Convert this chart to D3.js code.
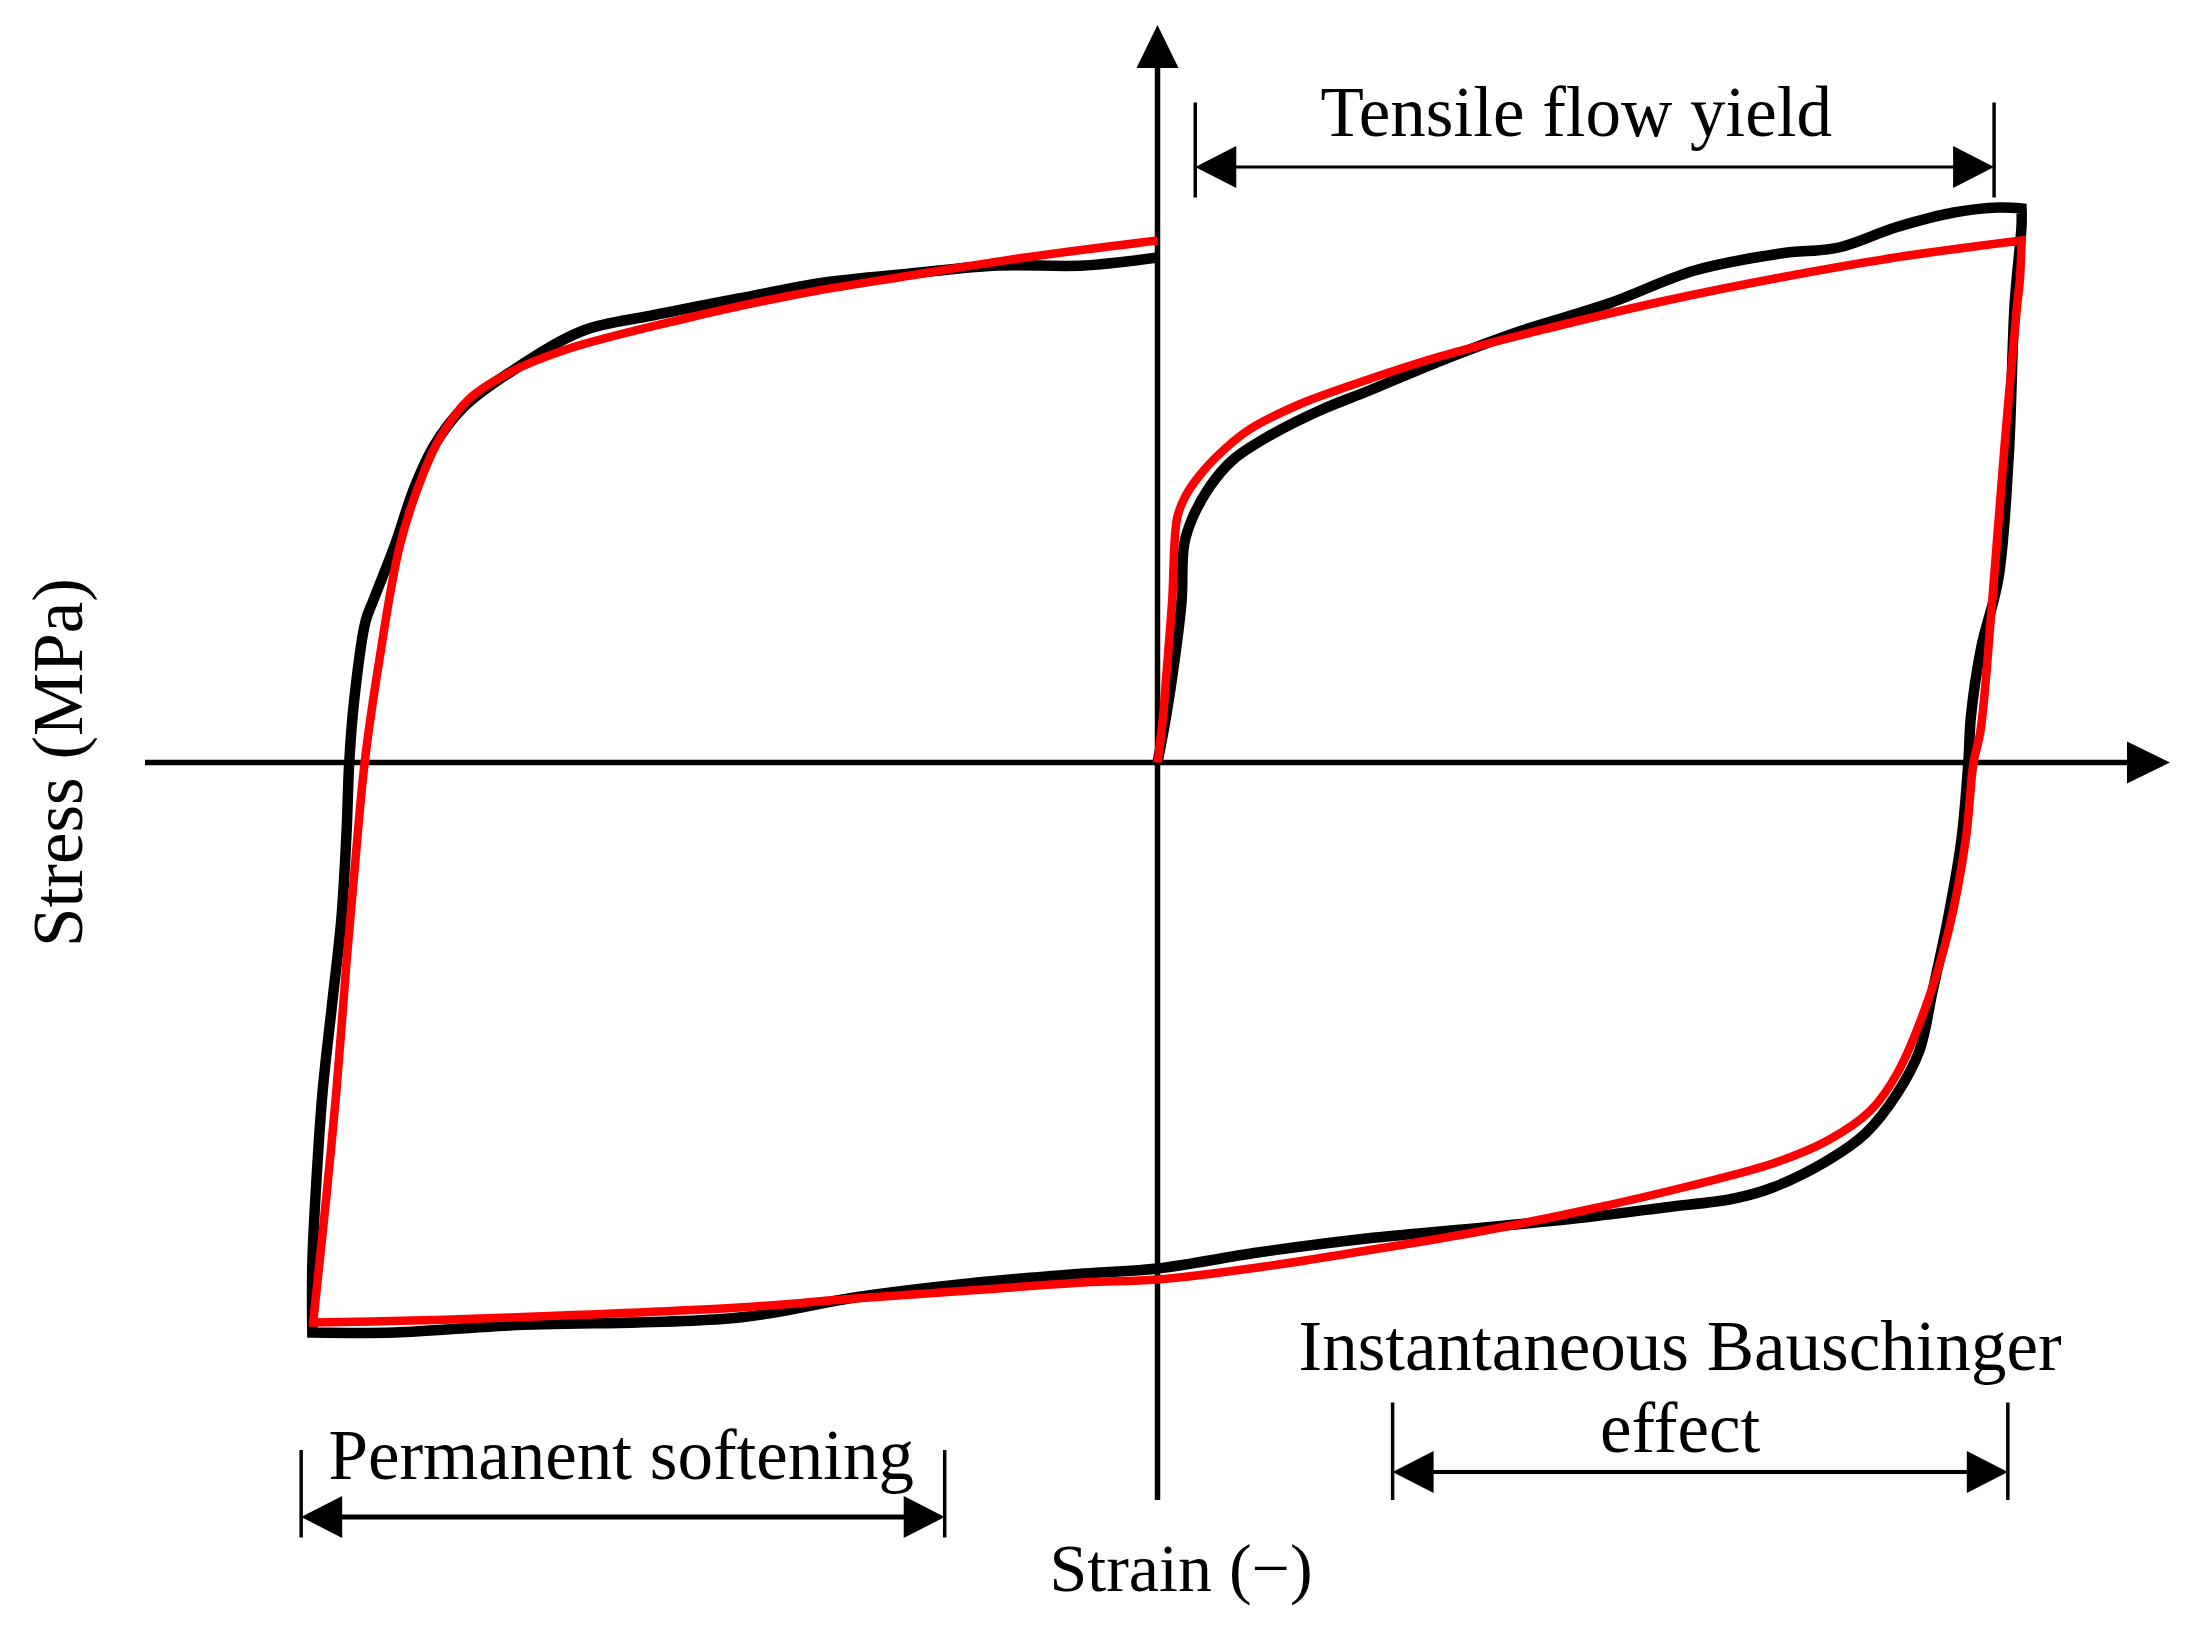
<!DOCTYPE html>
<html>
<head>
    <meta charset="utf-8">
    <title>Stress-strain loop</title>
    <script type="text/javascript" src="https://cdn.jsdelivr.net/npm/d3@7"></script>
    <style>
        body { margin: 0; background: #fff; }
        svg text { font-family: "Liberation Serif", "Times New Roman", serif; fill: #000; }
    </style>
</head>
<body>
<script type="text/javascript">

    // measured loop (black), [strain, stress], split at the sharp turns
    var blackLoad = [
        [0, 0], [0.10, 9.2], [0.20, 20.6], [0.28, 32.2], [0.31, 43.6], [0.41, 49.0], [0.61, 55.2],
        [0.87, 60.4], [1.27, 65.0], [1.89, 70.4], [2.47, 74.4], [3.25, 80.0], [4.25, 86.4],
        [5.26, 91.8], [6.26, 98.4], [7.26, 101.8], [7.94, 103.0], [8.60, 107.0], [9.28, 110.0],
        [9.81, 111.0], [10.07, 110.8]
    ];
    var blackUnload = [
        [10.07, 110.8], [10.07, 107.4], [9.99, 91.8], [9.92, 61.2], [9.80, 36.8], [9.60, 23.0], [9.48, 9.2],
        [9.45, 0], [9.37, -15.4], [9.22, -30.6], [9.03, -46.0], [8.88, -57.6], [8.62, -66.2],
        [8.25, -74.2], [7.81, -79.6], [7.17, -85.0], [6.72, -87.2], [5.91, -89.0], [4.97, -91.0],
        [3.69, -93.2], [2.44, -95.2], [1.17, -98.0], [0, -101.2], [-0.86, -102.2], [-2.20, -104.2],
        [-3.53, -107.0], [-4.87, -111.0], [-7.55, -112.6], [-8.89, -114.0], [-9.85, -114.0]
    ];
    var blackReload = [
        [-9.85, -114.0], [-9.85, -100.4], [-9.80, -83.0], [-9.73, -65.8], [-9.62, -48.4],
        [-9.51, -31.0], [-9.45, -13.6], [-9.42, 0], [-9.36, 12.8], [-9.23, 28.2], [-9.13, 32.8],
        [-8.89, 43.4], [-8.66, 55.0], [-8.43, 63.4], [-8.09, 71.0], [-7.55, 78.0], [-6.69, 86.4],
        [-5.89, 89.4], [-4.88, 92.8], [-3.88, 96.0], [-2.88, 97.8], [-1.86, 99.4], [-0.86, 99.4],
        [0, 101.0]
    ];

    // model loop (red)
    var redLoad = [
        [0, 0], [0.06, 8.4], [0.10, 16.8], [0.17, 32.2], [0.23, 49.0], [0.33, 53.4], [0.49, 57.4],
        [0.69, 61.2], [1.07, 66.6], [1.65, 71.6], [2.25, 75.4], [3.25, 81.0], [4.59, 87.0],
        [5.93, 92.4], [7.26, 97.0], [8.60, 101.0], [10.07, 104.4]
    ];
    var redUnload = [
        [10.07, 104.4], [10.05, 96.4], [10.02, 91.8], [9.87, 63.0], [9.72, 30.6], [9.59, 6.2], [9.51, 0],
        [9.42, -15.4], [9.22, -33.6], [8.95, -49.0], [8.62, -62.2], [8.31, -69.6], [7.81, -75.6],
        [7.17, -80.2], [6.22, -84.6], [4.97, -89.6], [3.69, -94.0], [2.44, -97.6], [1.17, -101.0],
        [0, -103.4], [-0.86, -104.0], [-2.20, -105.6], [-3.53, -107.2], [-4.87, -109.0],
        [-7.55, -111.0], [-8.68, -111.6], [-9.84, -112.0]
    ];
    var redReload = [
        [-9.84, -112.0], [-9.69, -87.4], [-9.57, -65.8], [-9.45, -39.6], [-9.34, -18.0], [-9.24, 0], [-9.07, 20.4],
        [-8.83, 43.4], [-8.57, 57.2], [-8.36, 65.0], [-8.03, 72.6], [-7.55, 78.0], [-6.89, 82.6],
        [-5.55, 88.6], [-4.21, 93.6], [-2.88, 97.4], [-1.54, 101.0], [0, 104.4]
    ];

    var xExtent = [-11.8, 11.8],
        yExtent = [-147.5, 147.5];

    var axisLabels = ["Strain (\u2212)", "Stress (MPa)"];

    // annotated ranges on the loop
    var brackets = [
        {lines: ["Tensile flow yield"], from: 0.44, to: 9.75, at: 119.1, tick: [113, 132],
         textX: 4.88, textY: [125.3], lw: 3},
        {lines: ["Permanent softening"], from: -9.98, to: -2.48, at: -150.9, tick: [-155, -137.5],
         textX: -6.25, textY: [-143.3], lw: 5},
        {lines: ["Instantaneous Bauschinger", "effect"], from: 2.74, to: 9.91, at: -141.9, tick: [-147.5, -128],
         textX: 6.09, textY: [-121.5, -137.9], lw: 4}
    ];

    var width = 2209,
        height = 1631;

    var x = d3.scaleLinear().domain(xExtent).range([145, 2170]),
        y = d3.scaleLinear().domain(yExtent).range([1500, 25]);

    var svg = d3.select('body').append('svg')
        .attr('width', width)
        .attr('height', height)
        .style('background', '#fff');

    // axes with arrow heads
    var head = 43, half = 21;
    svg.append('line')
        .attr('x1', x(xExtent[0])).attr('y1', y(0))
        .attr('x2', x(xExtent[1]) - head + 2).attr('y2', y(0))
        .attr('stroke', '#000').attr('stroke-width', 5.5);
    svg.append('path')
        .attr('d', 'M' + x(xExtent[1]) + ',' + y(0) +
                   'L' + (x(xExtent[1]) - head) + ',' + (y(0) - half) +
                   'L' + (x(xExtent[1]) - head) + ',' + (y(0) + half) + 'Z')
        .attr('fill', '#000');

    svg.append('line')
        .attr('x1', x(0)).attr('y1', y(yExtent[0]))
        .attr('x2', x(0)).attr('y2', y(yExtent[1]) + head - 2)
        .attr('stroke', '#000').attr('stroke-width', 5.5);
    svg.append('path')
        .attr('d', 'M' + x(0) + ',' + y(yExtent[1]) +
                   'L' + (x(0) - half) + ',' + (y(yExtent[1]) + head) +
                   'L' + (x(0) + half) + ',' + (y(yExtent[1]) + head) + 'Z')
        .attr('fill', '#000');

    // loops: smooth branches joined with sharp corners
    var line = d3.line()
        .curve(d3.curveCatmullRom.alpha(0.5))
        .x(function(d){ return x(d[0]); })
        .y(function(d){ return y(d[1]); });

    function loopPath(branches){
        return branches.map(function(b, i){
            var d = line(b);
            return i ? d.replace(/^M/, 'L') : d;
        }).join('');
    }

    svg.append('path')
        .attr('d', loopPath([blackLoad, blackUnload, blackReload]))
        .attr('fill', 'none')
        .attr('stroke', '#000')
        .attr('stroke-width', 10.5)
        .attr('stroke-linejoin', 'miter');

    svg.append('path')
        .attr('d', loopPath([redLoad, redUnload, redReload]))
        .attr('fill', 'none')
        .attr('stroke', '#ff0000')
        .attr('stroke-width', 8.5)
        .attr('stroke-linejoin', 'miter');

    // brackets
    var aw = 41, ah = 21;
    brackets.forEach(function(b){
        var g = svg.append('g'),
            x1 = x(b.from), x2 = x(b.to), yy = y(b.at);

        [x1, x2].forEach(function(xx){
            g.append('line')
                .attr('x1', xx).attr('x2', xx)
                .attr('y1', y(b.tick[0])).attr('y2', y(b.tick[1]))
                .attr('stroke', '#000').attr('stroke-width', 3.5);
        });

        g.append('line')
            .attr('x1', x1 + aw - 2).attr('x2', x2 - aw + 2)
            .attr('y1', yy).attr('y2', yy)
            .attr('stroke', '#000').attr('stroke-width', b.lw);

        g.append('path')
            .attr('d', 'M' + x1 + ',' + yy + 'L' + (x1 + aw) + ',' + (yy - ah) + 'L' + (x1 + aw) + ',' + (yy + ah) + 'Z' +
                       'M' + x2 + ',' + yy + 'L' + (x2 - aw) + ',' + (yy - ah) + 'L' + (x2 - aw) + ',' + (yy + ah) + 'Z')
            .attr('fill', '#000');

        b.lines.forEach(function(t, i){
            g.append('text')
                .attr('x', x(b.textX))
                .attr('y', y(b.textY[i]))
                .attr('text-anchor', 'middle')
                .attr('font-size', 71)
                .text(t);
        });
    });

    // axis titles
    svg.append('text')
        .attr('x', 1181)
        .attr('y', 1591)
        .attr('text-anchor', 'middle')
        .attr('font-size', 68)
        .text(axisLabels[0]);

    svg.append('text')
        .attr('transform', 'translate(82,' + y(0) + ') rotate(-90)')
        .attr('text-anchor', 'middle')
        .attr('font-size', 71)
        .text(axisLabels[1]);

</script>
</body>
</html>
